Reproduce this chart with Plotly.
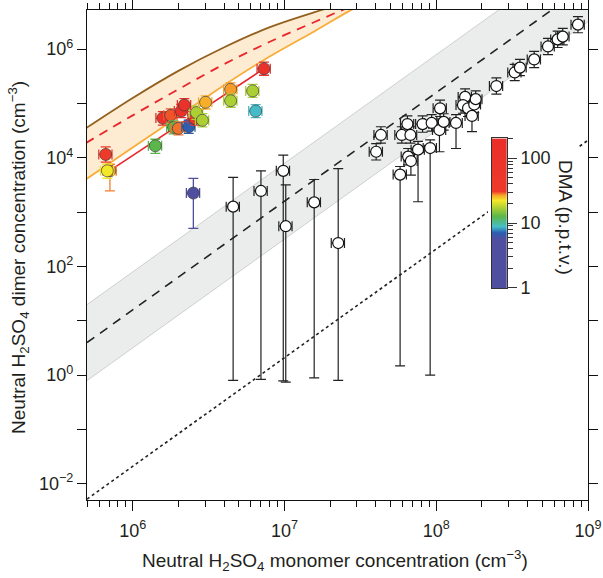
import numpy as np
import plotly.graph_objects as go
from plotly.colors import sample_colorscale

# ---------------- data ----------------
# coloured (DMA) points: monomer, dimer, dimer low/high error bounds, DMA (pptv)
col_x = [6.64e5, 7.08e5, 6.81e5, 1.41e6, 2.51e6, 1.58e6, 1.78e6, 1.86e6, 2.0e6, 2.34e6,
         2.57e6, 2.63e6, 2.88e6, 3.02e6, 2.09e6, 2.19e6, 4.42e6, 4.42e6, 6.17e6, 6.46e6, 7.33e6]
col_y = [1.15e4, 5.75e3, 5.75e3, 1.66e4, 2.24e3, 5.37e4, 6.03e4, 3.63e4, 3.47e4, 3.72e4,
         5.25e4, 6.76e4, 4.9e4, 1.05e5, 7.24e4, 9.33e4, 1.82e5, 1.12e5, 1.7e5, 7.24e4, 4.37e5]
col_lo = [8.3e3, 2.45e3, 4.2e3, 1.2e4, 5.0e2, 3.98e4, 4.47e4, 2.75e4, 2.63e4, 2.82e4,
          3.98e4, 5.1e4, 3.7e4, 7.9e4, 5.5e4, 7.08e4, 1.38e5, 8.5e4, 1.29e5, 5.5e4, 3.3e5]
col_hi = [1.58e4, 7.6e3, 7.6e3, 2.19e4, 4.17e3, 7.08e4, 7.94e4, 4.79e4, 4.57e4, 4.9e4,
          6.9e4, 8.9e4, 6.5e4, 1.38e5, 9.55e4, 1.23e5, 2.4e5, 1.48e5, 2.24e5, 9.5e4, 5.75e5]
col_dma = [32, 28, 22, 12.6, 2, 100, 29.5, 12.6, 28.5, 7,
           100, 17, 17, 26, 100, 100, 27, 17, 17, 8.7, 100]

# open (white) points
wh_x = [4.59e6, 7.0e6, 9.82e6, 1.02e7, 1.57e7, 2.26e7,
        4.02e7, 4.32e7, 5.78e7, 6.46e7, 5.93e7, 6.76e7, 6.53e7, 6.81e7, 7.59e7, 8.13e7,
        9.12e7, 9.33e7, 1.06e8, 1.05e8, 1.12e8, 1.35e8, 1.55e8, 1.50e8, 1.62e8, 1.78e8,
        1.72e8, 1.82e8, 2.49e8, 3.29e8, 3.56e8, 4.42e8, 5.45e8, 6.31e8, 6.82e8, 8.59e8]
wh_y = [1.26e3, 2.45e3, 5.75e3, 550, 1.51e3, 269,
        1.29e4, 2.63e4, 4.9e3, 4.17e4, 2.63e4, 2.63e4, 1.05e4, 8.7e3, 1.41e4, 4.17e4,
        1.51e4, 4.37e4, 8.13e4, 3.24e4, 4.57e4, 4.37e4, 1.32e5, 9.33e4, 8.13e4, 9.55e4,
        5.89e4, 1.2e5, 2.09e5, 3.72e5, 4.57e5, 6.46e5, 1.12e6, 1.51e6, 1.70e6, 2.82e6]
wh_lo = [0.80, 0.83, 0.78, 0.74, 0.89, 0.80,
         9.1e3, 1.86e4, 1.48, 2.95e4, 1.86e4, 1.86e4, 7.4e3, 4.8e3, 1.55e3, 2.95e4,
         1.0, 3.1e4, 5.75e4, 1.29e4, 3.24e4, 1.48e4, 9.3e4, 6.6e4, 5.75e4, 6.76e4,
         3.02e4, 8.5e4, 1.48e5, 2.63e5, 3.24e5, 4.57e5, 7.9e5, 1.07e6, 1.2e6, 2.0e6]
wh_hi = [4.37e3, 5.75e3, 1.12e4, 3.16e3, 3.98e3, 6.3e3,
         1.82e4, 3.72e4, 6.9e3, 5.9e4, 3.72e4, 3.72e4, 1.48e4, 1.23e4, 2.0e4, 5.9e4,
         2.14e4, 6.2e4, 1.15e5, 4.57e4, 6.46e4, 6.2e4, 1.86e5, 1.32e5, 1.15e5, 1.35e5,
         8.3e4, 1.7e5, 2.95e5, 5.25e5, 6.46e5, 9.1e5, 1.58e6, 2.14e6, 2.4e6, 3.98e6]

# reference lines
ref_x = [5e5, 1e9]
kin_dashed_y = [3.96, 1.58e7]
band_upper_y = [19.8, 7.9e7]
band_lower_y = [0.79, 3.2e6]
dotted_y = [5.2e-3, 2.1e4]

# model curves
brown_x = [4.9e5, 1.0e6, 2.0e6, 3.98e6, 7.94e6, 1.58e7, 2.51e7]
brown_y = [3.47e4, 1.26e5, 3.98e5, 1.07e6, 2.51e6, 4.79e6, 7.08e6]
rdash_x = [4.9e5, 1.0e6, 2.0e6, 3.98e6, 7.94e6, 1.58e7, 2.51e7, 3.16e7]
rdash_y = [1.86e4, 6.03e4, 1.82e5, 5.25e5, 1.35e6, 3.16e6, 5.5e6, 7.08e6]
orange_x = [4.9e5, 1.0e6, 2.0e6, 3.98e6, 7.94e6, 1.58e7, 2.63e7, 3.55e7]
orange_y = [3.98e3, 1.55e4, 5.75e4, 2.14e5, 7.24e5, 2.14e6, 4.9e6, 7.59e6]
fit_x = [6.87e5, 7.33e6]
fit_y = [5.5e3, 4.37e5]

# axis ticks
x_tickvals = [1e6, 1e7, 1e8, 1e9]
x_ticktext = ["10<sup>6</sup>", "10<sup>7</sup>", "10<sup>8</sup>", "10<sup>9</sup>"]
y_tickvals = [1e-2, 1, 1e2, 1e4, 1e6]
y_ticktext = ["10<sup>−2</sup>", "10<sup>0</sup>", "10<sup>2</sup>", "10<sup>4</sup>", "10<sup>6</sup>"]
y_oddvals = [1e-1, 10, 1e3, 1e5]
cb_tickvals = [1, 10, 100]
cb_ticktext = ["1", "10", "100"]

# ---------------- styling ----------------
FONT = "Liberation Sans, Arial, Helvetica, sans-serif"
TXT = "#231f20"
CMAX = np.log10(200)
cscale = [[0, '#4f4fa0'], [0.33, '#4f4fa0'], [0.37, '#2a5fb0'], [0.41, '#45bfc8'],
          [0.48, '#5cb648'], [0.54, '#b4d232'], [0.585, '#f5e82a'], [0.62, '#f7a52a'],
          [0.645, '#ee3a2a'], [1, '#ea2e2a']]

fig = go.Figure()

# grey band
fig.add_trace(go.Scatter(x=ref_x + ref_x[::-1], y=band_upper_y + band_lower_y[::-1],
                         fill='toself', fillcolor='#ebecec', line=dict(width=0),
                         mode='lines', hoverinfo='skip', showlegend=False))
for yy in (band_upper_y, band_lower_y):
    fig.add_trace(go.Scatter(x=ref_x, y=yy, mode='lines',
                             line=dict(color='#cfcfcf', width=1), showlegend=False))
fig.add_trace(go.Scatter(x=ref_x, y=kin_dashed_y, mode='lines',
                         line=dict(color='#222', width=1.6, dash='9px,7px'), showlegend=False))
fig.add_trace(go.Scatter(x=ref_x, y=dotted_y, mode='lines',
                         line=dict(color='#222', width=1.6, dash='3px,3px'), showlegend=False))

# orange band
fig.add_trace(go.Scatter(x=brown_x + orange_x[::-1], y=brown_y + orange_y[::-1],
                         fill='toself', fillcolor='#fdebd2', line=dict(width=0, shape='spline'),
                         mode='lines', showlegend=False))
fig.add_trace(go.Scatter(x=brown_x, y=brown_y, mode='lines',
                         line=dict(color='#93601e', width=1.8, shape='spline'), showlegend=False))
fig.add_trace(go.Scatter(x=orange_x, y=orange_y, mode='lines',
                         line=dict(color='#f9ad38', width=1.8, shape='spline'), showlegend=False))
fig.add_trace(go.Scatter(x=rdash_x, y=rdash_y, mode='lines',
                         line=dict(color='#e8262b', width=1.8, dash='9px,7px', shape='spline'),
                         showlegend=False))
fig.add_trace(go.Scatter(x=fit_x, y=fit_y, mode='lines',
                         line=dict(color='#e8262b', width=1.6), showlegend=False))

# open points
fig.add_trace(go.Scatter(
    x=wh_x, y=wh_y, mode='markers',
    marker=dict(size=11, color='white', line=dict(color='#111', width=1.2)),
    error_y=dict(type='data', symmetric=False,
                 array=[h - y for h, y in zip(wh_hi, wh_y)],
                 arrayminus=[y - l for l, y in zip(wh_lo, wh_y)],
                 color='#222', thickness=1.2, width=5),
    error_x=dict(type='percent', value=10, color='#222', thickness=1.2, width=5),
    showlegend=False))

# coloured points
for x, y, lo, hi, d in zip(col_x, col_y, col_lo, col_hi, col_dma):
    c = sample_colorscale(cscale, [np.log10(d) / CMAX])[0]
    fig.add_trace(go.Scatter(
        x=[x], y=[y], mode='markers',
        marker=dict(size=12, color=c, line=dict(color='rgba(60,60,60,0.85)', width=0.8)),
        error_y=dict(type='data', symmetric=False, array=[hi - y], arrayminus=[y - lo],
                     color=c, thickness=1.3, width=5),
        error_x=dict(type='percent', value=10, color=c, thickness=1.3, width=5),
        showlegend=False))

# white backdrop of the colour-bar legend
fig.add_trace(go.Scatter(x=[0, 1, 1, 0, 0], y=[0, 0, 1, 1, 0], xaxis='x2', yaxis='y2',
                         fill='toself', fillcolor='white', line=dict(width=0),
                         mode='lines', hoverinfo='skip', showlegend=False))

# colour bar
grad = np.linspace(0, CMAX, 300)
fig.add_trace(go.Heatmap(z=[[g] for g in grad], y=grad, x=[0.5], xaxis='x3', yaxis='y3',
                         colorscale=cscale, zmin=0, zmax=CMAX, showscale=False,
                         hoverinfo='skip'))

minor_x = [m * 10 ** e for e in range(5, 9) for m in range(2, 10) if m * 10 ** e >= 5e5]
axis_common = dict(showline=True, linecolor='#111', linewidth=1.2, mirror='ticks',
                   ticks='outside', tickwidth=1, tickcolor='#111', showgrid=False,
                   zeroline=False, automargin=False,
                   tickfont=dict(family=FONT, size=18, color=TXT))

cb_minor = [np.log10(m * 10 ** e) for e in range(0, 3) for m in range(2, 10) if m * 10 ** e <= 200]

fig.update_layout(
    width=603, height=578,
    margin=dict(l=87, r=15, t=10, b=78, autoexpand=False),
    paper_bgcolor='white', plot_bgcolor='white',
    font=dict(family=FONT, color=TXT),
    xaxis=dict(type='log', range=[np.log10(5e5), 9], tickvals=x_tickvals, ticktext=x_ticktext,
               ticklen=10, ticklabelstandoff=4,
               minor=dict(ticks='outside', ticklen=6, tickvals=minor_x, tickcolor='#111', tickwidth=1),
               **axis_common),
    yaxis=dict(type='log', range=[-2.3, 6.72], tickvals=y_tickvals, ticktext=y_ticktext,
               ticklen=9,
               minor=dict(ticks='outside', ticklen=9, tickvals=y_oddvals, tickcolor='#111', tickwidth=1),
               **axis_common),
    xaxis2=dict(domain=[0.8004, 0.980], range=[0, 1], visible=False, anchor='y2', automargin=False),
    yaxis2=dict(domain=[0.416, 0.747], range=[0, 1], visible=False, anchor='x2', automargin=False),
    xaxis3=dict(domain=[0.808, 0.838], range=[0, 1], anchor='y3', showline=True, mirror=True,
                linecolor='#333', linewidth=1, showticklabels=False, ticks='', showgrid=False,
                zeroline=False, automargin=False),
    yaxis3=dict(domain=[0.4327, 0.7378], range=[0, CMAX], anchor='x3', side='right',
                showline=True, mirror=True, linecolor='#333', linewidth=1, showgrid=False,
                zeroline=False, ticks='outside', ticklen=9, tickwidth=1, tickcolor='#333',
                automargin=False,
                tickvals=list(np.log10(cb_tickvals)), ticktext=cb_ticktext,
                tickfont=dict(family=FONT, size=18, color=TXT),
                minor=dict(ticks='outside', ticklen=5, tickvals=cb_minor, tickcolor='#333',
                           tickwidth=1)),
    annotations=[
        dict(text="Neutral H<sub>2</sub>SO<sub>4</sub> monomer concentration (cm<sup>−3</sup>)",
             xref='paper', yref='paper', x=0.495, y=-0.124, xanchor='center', yanchor='middle',
             showarrow=False, font=dict(family=FONT, size=19, color=TXT)),
        dict(text="Neutral H<sub>2</sub>SO<sub>4</sub> dimer concentration (cm<sup>−3</sup>)",
             xref='paper', yref='paper', x=-0.1357, y=0.494, xanchor='center', yanchor='middle',
             textangle=-90, showarrow=False, font=dict(family=FONT, size=19, color=TXT)),
        dict(text="DMA (p.p.t.v.)", xref='paper', yref='paper', x=0.956, y=0.5755,
             xanchor='center', yanchor='middle', textangle=90, showarrow=False,
             font=dict(family=FONT, size=19, color=TXT)),
    ],
)

fig.write_html("out.html", config={'displayModeBar': False},
               post_script="document.body.style.margin='0px';")
